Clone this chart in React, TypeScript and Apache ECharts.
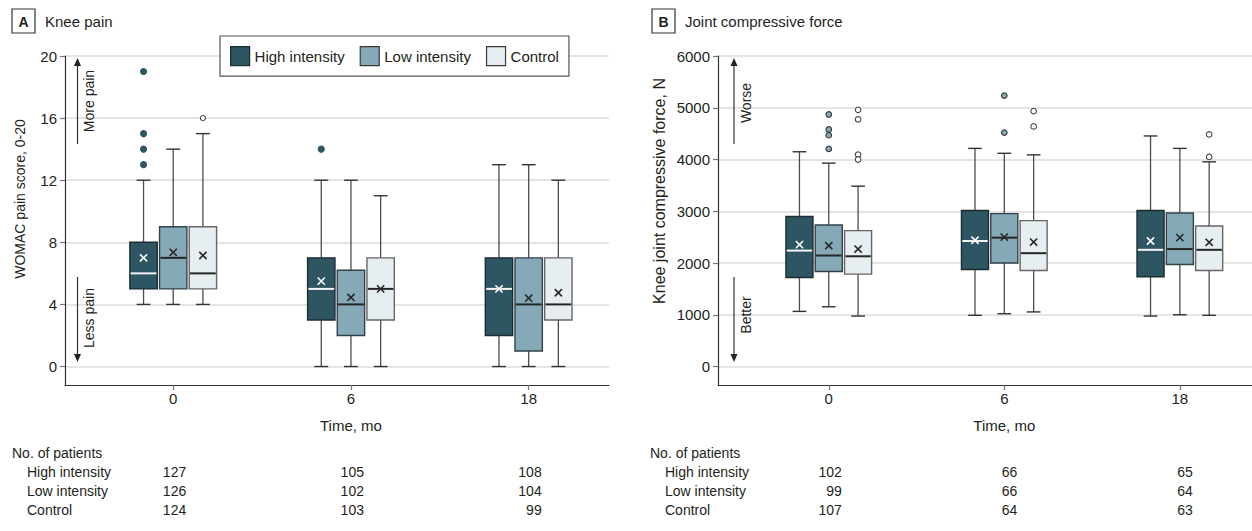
import React, { useEffect, useRef } from 'react';
import * as echarts from 'echarts';

const FONT = '"Liberation Sans", Arial, sans-serif';
const TEXT = '#231f20';

// ---------- data ----------
const timeLabels = ['0', '6', '18'];
const groupNames = ['High intensity', 'Low intensity', 'Control'];

// Panel A: WOMAC pain score [min, Q1, median, Q3, max] per time point
const painHigh = [[4, 5, 6, 8, 12], [0, 3, 5, 7, 12], [0, 2, 5, 7, 13]];
const painLow = [[4, 5, 7, 9, 14], [0, 2, 4, 6.2, 12], [0, 1, 4, 7, 13]];
const painControl = [[4, 5, 6, 9, 15], [0, 3, 5, 7, 11], [0, 3, 4, 7, 12]];
const painHighMean = [7.0, 5.5, 5.0];
const painLowMean = [7.35, 4.45, 4.4];
const painControlMean = [7.15, 5.0, 4.75];
const painHighOutliers = [[19, 15, 14, 13], [14], []];
const painLowOutliers = [[], [], []];
const painControlOutliers = [[16], [], []];

// Panel B: knee joint compressive force, N
const forceHigh = [[1065, 1720, 2240, 2900, 4150], [990, 1875, 2425, 3015, 4215], [975, 1735, 2255, 3015, 4455]];
const forceLow = [[1155, 1835, 2145, 2735, 3930], [1020, 2000, 2490, 2955, 4120], [1000, 1970, 2270, 2965, 4215]];
const forceControl = [[975, 1785, 2130, 2625, 3485], [1055, 1855, 2190, 2820, 4090], [990, 1855, 2255, 2715, 3955]];
const forceHighMean = [2355, 2440, 2425];
const forceLowMean = [2335, 2500, 2490];
const forceControlMean = [2270, 2405, 2400];
const forceHighOutliers = [[], [], []];
const forceLowOutliers = [[4870, 4580, 4470, 4205], [5235, 4520], []];
const forceControlOutliers = [[4960, 4775, 4095, 4000], [4935, 4640], [4485, 4050]];

// Number of patients
const painPatientsHigh = [127, 105, 108];
const painPatientsLow = [126, 102, 104];
const painPatientsControl = [124, 103, 99];
const forcePatientsHigh = [102, 66, 65];
const forcePatientsLow = [99, 66, 64];
const forcePatientsControl = [107, 64, 63];

const painTicks = [0, 4, 8, 12, 16, 20];
const forceTicks = [0, 1000, 2000, 3000, 4000, 5000, 6000];

// ---------- styles ----------
const GROUP_STYLES = [
  { fill: '#2e5562', border: '#1c2c33', median: '#f4f4f4', mean: '#ffffff', outFill: '#2e5562', outStroke: '#2e5562' },
  { fill: '#86a9b7', border: '#33434a', median: '#262626', mean: '#262626', outFill: '#86a9b7', outStroke: '#333333' },
  { fill: '#e6eef1', border: '#666666', median: '#262626', mean: '#262626', outFill: '#ffffff', outStroke: '#444444' },
];

function boxRenderer(stats: number[][], means: number[], outliers: number[][], k: number, outR: number) {
  return function (params: any, api: any) {
    const i = params.dataIndex;
    const cat = api.value(0) as number;
    const pos = cat + (k - 1) * 0.167;
    const xc = api.coord([pos, 0])[0];
    const bw = api.size([0.154, 0])[0];
    const cw = api.size([0.078, 0])[0];
    const yOf = (v: number) => api.coord([pos, v])[1];
    const [lo, q1, md, q3, hi] = stats[i];
    const st = GROUP_STYLES[k];
    const whisk = { stroke: '#4d4d4d', lineWidth: 1.3 };
    const cap = { stroke: '#333333', lineWidth: 1.4 };
    const ym = yOf(means[i]);
    const cs = 3.6;
    const children: any[] = [
      { type: 'line', shape: { x1: xc, y1: yOf(hi), x2: xc, y2: yOf(q3) }, style: whisk },
      { type: 'line', shape: { x1: xc, y1: yOf(q1), x2: xc, y2: yOf(lo) }, style: whisk },
      { type: 'line', shape: { x1: xc - cw / 2, y1: yOf(hi), x2: xc + cw / 2, y2: yOf(hi) }, style: cap },
      { type: 'line', shape: { x1: xc - cw / 2, y1: yOf(lo), x2: xc + cw / 2, y2: yOf(lo) }, style: cap },
      {
        type: 'rect',
        shape: { x: xc - bw / 2, y: yOf(q3), width: bw, height: yOf(q1) - yOf(q3) },
        style: { fill: st.fill, stroke: st.border, lineWidth: 1.4 },
      },
      {
        type: 'line',
        shape: { x1: xc - bw / 2 + 0.8, y1: yOf(md), x2: xc + bw / 2 - 0.8, y2: yOf(md) },
        style: { stroke: st.median, lineWidth: 2 },
      },
      { type: 'line', shape: { x1: xc - cs, y1: ym - cs, x2: xc + cs, y2: ym + cs }, style: { stroke: st.mean, lineWidth: 1.6 } },
      { type: 'line', shape: { x1: xc - cs, y1: ym + cs, x2: xc + cs, y2: ym - cs }, style: { stroke: st.mean, lineWidth: 1.6 } },
    ];
    outliers[i].forEach((v) => {
      children.push({
        type: 'circle',
        shape: { cx: xc, cy: yOf(v), r: outR },
        style: { fill: st.outFill, stroke: st.outStroke, lineWidth: 1.1 },
      });
    });
    return { type: 'group', children };
  };
}

function makeSeries(name: string, gridIdx: number, k: number, stats: number[][], means: number[], outliers: number[][], outR: number) {
  return {
    type: 'custom',
    name,
    xAxisIndex: gridIdx,
    yAxisIndex: gridIdx,
    data: stats.map((s, i) => [i, ...s, means[i]]),
    encode: { x: 0, y: [1, 2, 3, 4, 5, 6] },
    itemStyle: { color: GROUP_STYLES[k].fill },
    renderItem: boxRenderer(stats, means, outliers, k, outR),
    silent: true,
  };
}

function xAxisOf(gridIndex: number, min: number, max: number) {
  return {
    type: 'value',
    gridIndex,
    min,
    max,
    axisLine: { show: true, onZero: false, lineStyle: { color: '#333', width: 1.2 } },
    axisTick: { show: true, customValues: [0, 1, 2], length: 5, lineStyle: { color: '#777', width: 1.2 } },
    axisLabel: {
      customValues: [0, 1, 2],
      formatter: (v: number) => timeLabels[Math.round(v)],
      color: TEXT,
      fontSize: 15,
      fontFamily: FONT,
      margin: 6,
    },
    splitLine: { show: false },
  };
}

function yAxisOf(gridIndex: number, min: number, max: number, ticks: number[]) {
  return {
    type: 'value',
    gridIndex,
    min,
    max,
    axisLine: { show: true, onZero: false, lineStyle: { color: '#333', width: 1.2 } },
    axisTick: { show: true, customValues: ticks, length: 5, lineStyle: { color: '#777', width: 1.2 } },
    axisLabel: {
      customValues: ticks,
      formatter: (v: number) => String(v),
      color: TEXT,
      fontSize: 15,
      fontFamily: FONT,
      margin: 8,
    },
    splitLine: { show: true, lineStyle: { color: '#dddddd', width: 1.5 } },
  };
}

export default function App() {
  const ref = useRef<HTMLDivElement>(null);

  useEffect(() => {
    document.body.style.margin = '0';
    const chart = echarts.init(ref.current!, null, { renderer: 'svg' });

    const option: any = {
      animation: false,
      textStyle: { fontFamily: FONT, color: TEXT },
      grid: [
        { left: 65, top: 56, width: 544, height: 329 },
        { left: 718, top: 56, width: 540, height: 329 },
      ],
      xAxis: [xAxisOf(0, -0.609, 2.452), xAxisOf(1, -0.631, 2.411)],
      yAxis: [yAxisOf(0, -1.19, 20, painTicks), yAxisOf(1, -357, 6000, forceTicks)],
      legend: {
        left: 220,
        top: 36,
        padding: 10,
        itemGap: 15,
        itemWidth: 19,
        itemHeight: 19,
        icon: 'rect',
        selectedMode: false,
        backgroundColor: '#ffffff',
        borderColor: '#555555',
        borderWidth: 1.2,
        borderRadius: 0,
        textStyle: { fontSize: 15, fontFamily: FONT, color: TEXT },
        data: groupNames.map((n, k) => ({
          name: n,
          itemStyle: { color: GROUP_STYLES[k].fill, borderColor: k === 0 ? '#1c2c33' : '#3a3a3a', borderWidth: 1.2 },
        })),
        z: 10,
      },
      series: [
        makeSeries(groupNames[0], 0, 0, painHigh, painHighMean, painHighOutliers, 3),
        makeSeries(groupNames[1], 0, 1, painLow, painLowMean, painLowOutliers, 3),
        makeSeries(groupNames[2], 0, 2, painControl, painControlMean, painControlOutliers, 2.6),
        makeSeries(groupNames[0], 1, 0, forceHigh, forceHighMean, forceHighOutliers, 2.8),
        makeSeries(groupNames[1], 1, 1, forceLow, forceLowMean, forceLowOutliers, 2.8),
        makeSeries(groupNames[2], 1, 2, forceControl, forceControlMean, forceControlOutliers, 2.8),
      ],
    };
    chart.setOption(option);

    const tx = (grid: number, i: number) => chart.convertToPixel({ xAxisIndex: grid }, i) as number;
    const g: any[] = [];
    const txt = (x: number, y: number, text: string, extra: any = {}) => ({
      type: 'text',
      x,
      y,
      silent: true,
      style: { text, fontSize: 15, fontFamily: FONT, fill: TEXT, align: 'left', verticalAlign: 'middle', ...extra },
    });
    const arrow = (x: number, yFrom: number, yTip: number) => {
      const dir = yTip < yFrom ? -1 : 1;
      g.push({ type: 'line', silent: true, shape: { x1: x, y1: yFrom, x2: x, y2: yTip - dir * 6 }, style: { stroke: '#333', lineWidth: 1.2 } });
      g.push({
        type: 'polygon',
        silent: true,
        shape: { points: [[x, yTip], [x - 3.5, yTip - dir * 8], [x + 3.5, yTip - dir * 8]] },
        style: { fill: '#222' },
      });
    };

    const panels = [
      {
        letter: 'A', title: 'Knee pain', left: 12, yName: 'WOMAC pain score, 0-20', yNameX: 20, yNameY: 199, yNameSize: 14,
        arrowX: 77.5, upLabel: 'More pain', upY: 101, downLabel: 'Less pain', downY: 318,
        tableLeft: 12, counts: [painPatientsHigh, painPatientsLow, painPatientsControl],
      },
      {
        letter: 'B', title: 'Joint compressive force', left: 652, yName: 'Knee joint compressive force, N', yNameX: 659, yNameY: 191, yNameSize: 16,
        arrowX: 734, upLabel: 'Worse', upY: 103, downLabel: 'Better', downY: 315,
        tableLeft: 650, counts: [forcePatientsHigh, forcePatientsLow, forcePatientsControl],
      },
    ];

    panels.forEach((p, gi) => {
      g.push({ type: 'rect', silent: true, shape: { x: p.left, y: 9, width: 23, height: 24 }, style: { fill: '#fff', stroke: '#333', lineWidth: 1.2 } });
      g.push(txt(p.left + 11.5, 21.5, p.letter, { align: 'center', fontWeight: 'bold', fontSize: 14 }));
      g.push(txt(p.left + 33, 21, p.title));
      g.push({ ...txt(p.yNameX, p.yNameY, p.yName, { align: 'center', fontSize: p.yNameSize }), rotation: Math.PI / 2 });
      arrow(p.arrowX, 144, 58);
      arrow(p.arrowX, 277, 362);
      g.push({ ...txt(p.arrowX + 11.5, p.upY, p.upLabel, { align: 'center', fontSize: 14 }), rotation: Math.PI / 2 });
      g.push({ ...txt(p.arrowX + 11.5, p.downY, p.downLabel, { align: 'center', fontSize: 14 }), rotation: Math.PI / 2 });
      g.push(txt(tx(gi, 1), 425, 'Time, mo', { align: 'center' }));
      g.push(txt(p.tableLeft, 453, 'No. of patients', { fontSize: 14 }));
      groupNames.forEach((n, r) => {
        const y = 471.5 + r * 19;
        g.push(txt(p.tableLeft + 15, y, n, { fontSize: 14 }));
        p.counts[r].forEach((c, i) => {
          g.push(txt(tx(gi, i) + 13, y, String(c), { align: 'right', fontSize: 14 }));
        });
      });
    });

    chart.setOption({ graphic: { elements: g } });

    return () => chart.dispose();
  }, []);

  return <div ref={ref} style={{ width: 1252, height: 531 }} />;
}
